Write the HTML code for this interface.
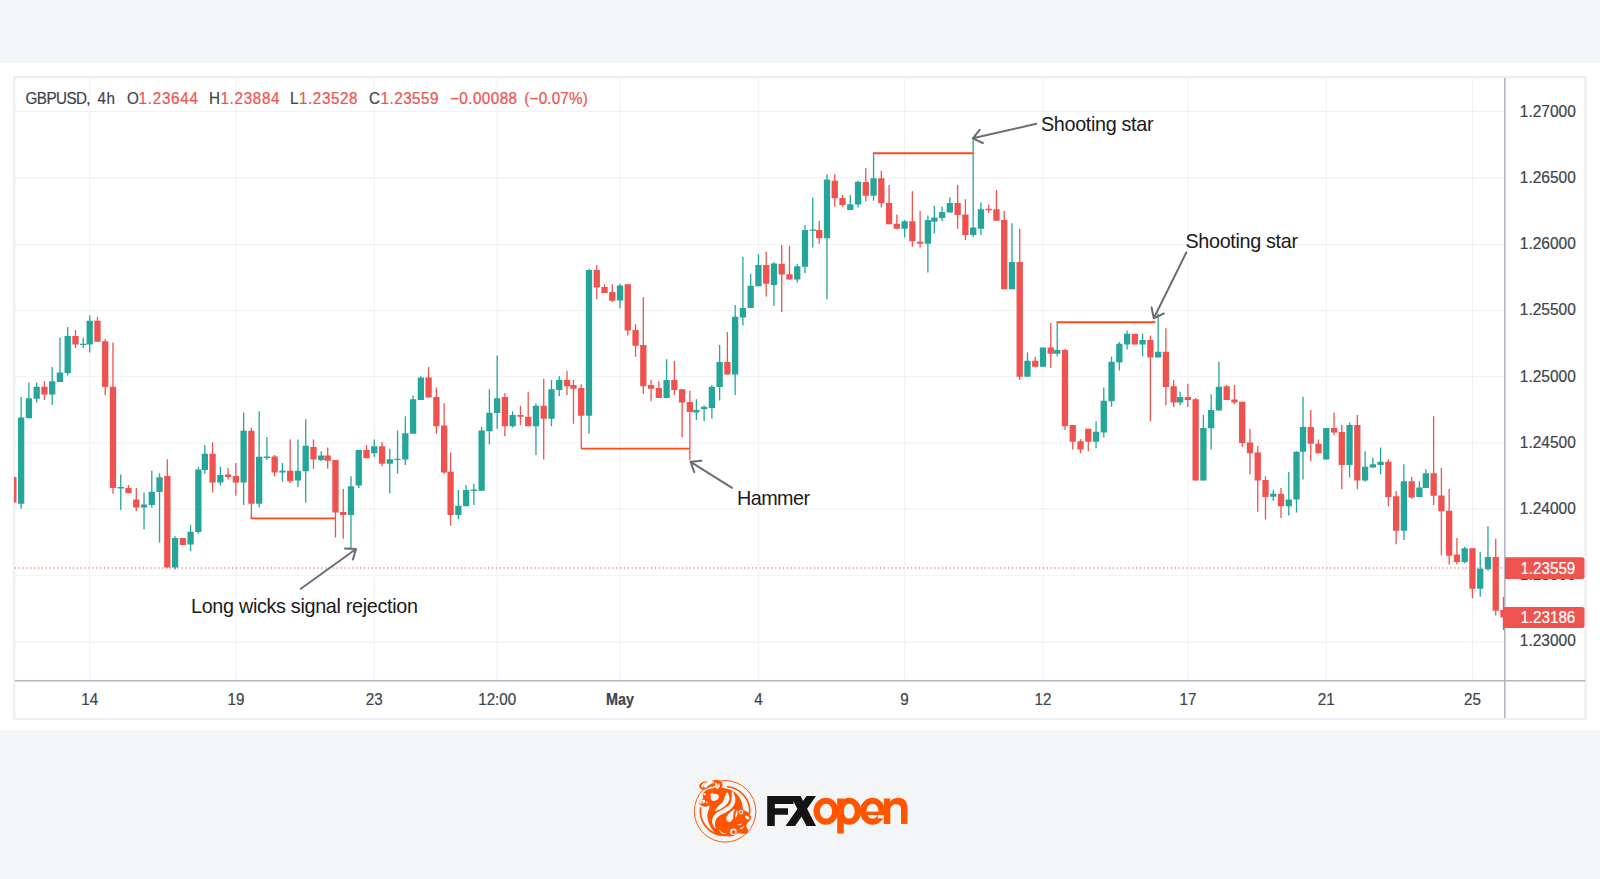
<!DOCTYPE html>
<html><head><meta charset="utf-8"><title>GBPUSD chart</title>
<style>
html,body{margin:0;padding:0;}
body{width:1600px;height:879px;background:#f4f5f7;overflow:hidden;position:relative;font-family:"Liberation Sans",sans-serif;}
#band{position:absolute;left:0;top:63px;width:1600px;height:667px;background:#ffffff;}
svg{position:absolute;left:0;top:0;}
text{font-family:"Liberation Sans",sans-serif;}
</style></head><body>
<div id="band"></div>
<svg width="1600" height="879" viewBox="0 0 1600 879">
<defs><clipPath id="plot"><rect x="14" y="78" width="1490.5" height="602"/></clipPath></defs>

<rect x="14.2" y="77.2" width="1571.4" height="641.8" fill="#ffffff" stroke="#edeff4" stroke-width="2.4"/>
<line x1="89.7" y1="78" x2="89.7" y2="680" stroke="#f2f3f5" stroke-width="1.2"/>
<line x1="235.9" y1="78" x2="235.9" y2="680" stroke="#f2f3f5" stroke-width="1.2"/>
<line x1="374.3" y1="78" x2="374.3" y2="680" stroke="#f2f3f5" stroke-width="1.2"/>
<line x1="497.2" y1="78" x2="497.2" y2="680" stroke="#f2f3f5" stroke-width="1.2"/>
<line x1="620.0" y1="78" x2="620.0" y2="680" stroke="#f2f3f5" stroke-width="1.2"/>
<line x1="758.4" y1="78" x2="758.4" y2="680" stroke="#f2f3f5" stroke-width="1.2"/>
<line x1="904.6" y1="78" x2="904.6" y2="680" stroke="#f2f3f5" stroke-width="1.2"/>
<line x1="1043.0" y1="78" x2="1043.0" y2="680" stroke="#f2f3f5" stroke-width="1.2"/>
<line x1="1187.9" y1="78" x2="1187.9" y2="680" stroke="#f2f3f5" stroke-width="1.2"/>
<line x1="1326.3" y1="78" x2="1326.3" y2="680" stroke="#f2f3f5" stroke-width="1.2"/>
<line x1="1472.4" y1="78" x2="1472.4" y2="680" stroke="#f2f3f5" stroke-width="1.2"/>
<line x1="15" y1="111.3" x2="1504" y2="111.3" stroke="#f2f3f5" stroke-width="1.2"/>
<line x1="15" y1="177.6" x2="1504" y2="177.6" stroke="#f2f3f5" stroke-width="1.2"/>
<line x1="15" y1="244.5" x2="1504" y2="244.5" stroke="#f2f3f5" stroke-width="1.2"/>
<line x1="15" y1="310.6" x2="1504" y2="310.6" stroke="#f2f3f5" stroke-width="1.2"/>
<line x1="15" y1="376.5" x2="1504" y2="376.5" stroke="#f2f3f5" stroke-width="1.2"/>
<line x1="15" y1="442.8" x2="1504" y2="442.8" stroke="#f2f3f5" stroke-width="1.2"/>
<line x1="15" y1="508.8" x2="1504" y2="508.8" stroke="#f2f3f5" stroke-width="1.2"/>
<line x1="15" y1="575.7" x2="1504" y2="575.7" stroke="#f2f3f5" stroke-width="1.2"/>
<line x1="15" y1="641.9" x2="1504" y2="641.9" stroke="#f2f3f5" stroke-width="1.2"/>
<g clip-path="url(#plot)">
<rect x="12.73" y="477.00" width="1.3" height="25.50" fill="#ef5350"/>
<rect x="10.23" y="477.00" width="6.3" height="25.50" fill="#ef5350"/>
<rect x="20.50" y="397.00" width="1.3" height="111.75" fill="#26a69a"/>
<rect x="18.00" y="417.50" width="6.3" height="86.25" fill="#26a69a"/>
<rect x="28.26" y="382.50" width="1.3" height="35.75" fill="#26a69a"/>
<rect x="25.76" y="398.25" width="6.3" height="20.00" fill="#26a69a"/>
<rect x="36.02" y="382.50" width="1.3" height="20.00" fill="#26a69a"/>
<rect x="33.52" y="386.75" width="6.3" height="12.00" fill="#26a69a"/>
<rect x="43.78" y="381.25" width="1.3" height="18.75" fill="#ef5350"/>
<rect x="41.28" y="386.75" width="6.3" height="7.75" fill="#ef5350"/>
<rect x="51.54" y="367.00" width="1.3" height="38.00" fill="#26a69a"/>
<rect x="49.04" y="381.25" width="6.3" height="13.25" fill="#26a69a"/>
<rect x="59.30" y="337.50" width="1.3" height="44.50" fill="#26a69a"/>
<rect x="56.80" y="372.50" width="6.3" height="9.50" fill="#26a69a"/>
<rect x="67.06" y="327.00" width="1.3" height="48.50" fill="#26a69a"/>
<rect x="64.56" y="336.00" width="6.3" height="37.00" fill="#26a69a"/>
<rect x="74.82" y="330.00" width="1.3" height="18.00" fill="#ef5350"/>
<rect x="72.32" y="336.00" width="6.3" height="8.50" fill="#ef5350"/>
<rect x="82.58" y="337.50" width="1.3" height="10.50" fill="#26a69a"/>
<rect x="80.08" y="343.75" width="6.3" height="1.25" fill="#26a69a"/>
<rect x="89.05" y="315.50" width="1.3" height="37.00" fill="#26a69a"/>
<rect x="86.55" y="320.75" width="6.3" height="23.75" fill="#26a69a"/>
<rect x="96.81" y="316.75" width="1.3" height="25.00" fill="#ef5350"/>
<rect x="94.31" y="320.75" width="6.3" height="21.00" fill="#ef5350"/>
<rect x="104.57" y="338.75" width="1.3" height="56.25" fill="#ef5350"/>
<rect x="102.07" y="341.25" width="6.3" height="45.75" fill="#ef5350"/>
<rect x="112.33" y="342.50" width="1.3" height="151.25" fill="#ef5350"/>
<rect x="109.83" y="386.75" width="6.3" height="101.25" fill="#ef5350"/>
<rect x="120.09" y="474.50" width="1.3" height="35.50" fill="#26a69a"/>
<rect x="117.59" y="487.00" width="6.3" height="1.50" fill="#26a69a"/>
<rect x="127.85" y="485.00" width="1.3" height="8.25" fill="#ef5350"/>
<rect x="125.35" y="488.00" width="6.3" height="5.25" fill="#ef5350"/>
<rect x="135.62" y="488.00" width="1.3" height="23.25" fill="#ef5350"/>
<rect x="133.12" y="499.50" width="6.3" height="8.00" fill="#ef5350"/>
<rect x="143.38" y="492.50" width="1.3" height="37.00" fill="#26a69a"/>
<rect x="140.88" y="504.50" width="6.3" height="3.00" fill="#26a69a"/>
<rect x="151.14" y="470.75" width="1.3" height="36.75" fill="#26a69a"/>
<rect x="148.64" y="491.75" width="6.3" height="13.25" fill="#26a69a"/>
<rect x="158.90" y="473.25" width="1.3" height="69.25" fill="#26a69a"/>
<rect x="156.40" y="477.25" width="6.3" height="14.75" fill="#26a69a"/>
<rect x="166.66" y="459.25" width="1.3" height="108.25" fill="#ef5350"/>
<rect x="164.16" y="476.00" width="6.3" height="91.50" fill="#ef5350"/>
<rect x="174.42" y="536.25" width="1.3" height="33.25" fill="#26a69a"/>
<rect x="171.92" y="538.00" width="6.3" height="29.50" fill="#26a69a"/>
<rect x="182.18" y="538.00" width="1.3" height="7.00" fill="#ef5350"/>
<rect x="179.68" y="538.00" width="6.3" height="7.00" fill="#ef5350"/>
<rect x="189.94" y="525.00" width="1.3" height="26.25" fill="#26a69a"/>
<rect x="187.44" y="531.75" width="6.3" height="12.75" fill="#26a69a"/>
<rect x="197.70" y="466.75" width="1.3" height="67.00" fill="#26a69a"/>
<rect x="195.20" y="469.50" width="6.3" height="62.50" fill="#26a69a"/>
<rect x="204.17" y="445.00" width="1.3" height="28.75" fill="#26a69a"/>
<rect x="201.67" y="453.75" width="6.3" height="16.25" fill="#26a69a"/>
<rect x="211.93" y="442.50" width="1.3" height="50.00" fill="#ef5350"/>
<rect x="209.43" y="453.75" width="6.3" height="28.75" fill="#ef5350"/>
<rect x="219.69" y="466.75" width="1.3" height="18.75" fill="#26a69a"/>
<rect x="217.19" y="475.00" width="6.3" height="7.50" fill="#26a69a"/>
<rect x="227.45" y="468.00" width="1.3" height="11.50" fill="#ef5350"/>
<rect x="224.95" y="474.50" width="6.3" height="2.50" fill="#ef5350"/>
<rect x="235.21" y="463.00" width="1.3" height="32.75" fill="#ef5350"/>
<rect x="232.71" y="476.00" width="6.3" height="6.50" fill="#ef5350"/>
<rect x="242.98" y="412.50" width="1.3" height="92.50" fill="#26a69a"/>
<rect x="240.48" y="430.75" width="6.3" height="51.75" fill="#26a69a"/>
<rect x="250.74" y="428.00" width="1.3" height="90.00" fill="#ef5350"/>
<rect x="248.24" y="430.75" width="6.3" height="73.00" fill="#ef5350"/>
<rect x="258.50" y="411.25" width="1.3" height="96.25" fill="#26a69a"/>
<rect x="256.00" y="456.75" width="6.3" height="47.00" fill="#26a69a"/>
<rect x="266.26" y="437.00" width="1.3" height="23.00" fill="#26a69a"/>
<rect x="263.76" y="456.50" width="6.3" height="1.50" fill="#26a69a"/>
<rect x="274.02" y="455.00" width="1.3" height="21.25" fill="#ef5350"/>
<rect x="271.52" y="456.50" width="6.3" height="16.00" fill="#ef5350"/>
<rect x="281.78" y="463.00" width="1.3" height="18.75" fill="#26a69a"/>
<rect x="279.28" y="470.75" width="6.3" height="1.75" fill="#26a69a"/>
<rect x="289.54" y="439.50" width="1.3" height="43.50" fill="#ef5350"/>
<rect x="287.04" y="470.75" width="6.3" height="10.50" fill="#ef5350"/>
<rect x="297.30" y="439.50" width="1.3" height="47.50" fill="#26a69a"/>
<rect x="294.80" y="470.75" width="6.3" height="9.75" fill="#26a69a"/>
<rect x="305.06" y="419.25" width="1.3" height="83.25" fill="#26a69a"/>
<rect x="302.56" y="445.75" width="6.3" height="25.50" fill="#26a69a"/>
<rect x="312.83" y="439.50" width="1.3" height="29.25" fill="#ef5350"/>
<rect x="310.33" y="447.00" width="6.3" height="12.50" fill="#ef5350"/>
<rect x="320.59" y="451.25" width="1.3" height="10.00" fill="#26a69a"/>
<rect x="318.09" y="455.50" width="6.3" height="4.50" fill="#26a69a"/>
<rect x="327.05" y="447.50" width="1.3" height="21.25" fill="#ef5350"/>
<rect x="324.55" y="455.50" width="6.3" height="5.25" fill="#ef5350"/>
<rect x="334.81" y="460.00" width="1.3" height="77.50" fill="#ef5350"/>
<rect x="332.31" y="460.00" width="6.3" height="52.50" fill="#ef5350"/>
<rect x="342.58" y="488.75" width="1.3" height="50.00" fill="#ef5350"/>
<rect x="340.08" y="512.00" width="6.3" height="3.00" fill="#ef5350"/>
<rect x="350.34" y="476.25" width="1.3" height="72.50" fill="#26a69a"/>
<rect x="347.84" y="486.25" width="6.3" height="28.75" fill="#26a69a"/>
<rect x="358.10" y="450.00" width="1.3" height="38.00" fill="#26a69a"/>
<rect x="355.60" y="450.00" width="6.3" height="35.50" fill="#26a69a"/>
<rect x="365.86" y="445.00" width="1.3" height="13.25" fill="#ef5350"/>
<rect x="363.36" y="450.00" width="6.3" height="8.25" fill="#ef5350"/>
<rect x="373.62" y="439.50" width="1.3" height="17.50" fill="#26a69a"/>
<rect x="371.12" y="446.25" width="6.3" height="7.00" fill="#26a69a"/>
<rect x="381.38" y="442.00" width="1.3" height="24.25" fill="#ef5350"/>
<rect x="378.88" y="446.25" width="6.3" height="17.50" fill="#ef5350"/>
<rect x="389.14" y="448.75" width="1.3" height="44.50" fill="#26a69a"/>
<rect x="386.64" y="459.25" width="6.3" height="4.50" fill="#26a69a"/>
<rect x="396.90" y="430.50" width="1.3" height="43.25" fill="#26a69a"/>
<rect x="394.40" y="458.75" width="6.3" height="1.25" fill="#26a69a"/>
<rect x="404.66" y="416.25" width="1.3" height="48.75" fill="#26a69a"/>
<rect x="402.16" y="433.25" width="6.3" height="26.25" fill="#26a69a"/>
<rect x="412.42" y="395.50" width="1.3" height="38.25" fill="#26a69a"/>
<rect x="409.92" y="399.25" width="6.3" height="34.50" fill="#26a69a"/>
<rect x="420.19" y="376.25" width="1.3" height="23.75" fill="#26a69a"/>
<rect x="417.69" y="377.50" width="6.3" height="22.50" fill="#26a69a"/>
<rect x="427.95" y="367.00" width="1.3" height="30.50" fill="#ef5350"/>
<rect x="425.45" y="377.50" width="6.3" height="20.00" fill="#ef5350"/>
<rect x="435.71" y="387.50" width="1.3" height="46.25" fill="#ef5350"/>
<rect x="433.21" y="397.00" width="6.3" height="29.25" fill="#ef5350"/>
<rect x="443.47" y="403.25" width="1.3" height="70.50" fill="#ef5350"/>
<rect x="440.97" y="425.50" width="6.3" height="47.00" fill="#ef5350"/>
<rect x="449.94" y="452.50" width="1.3" height="73.25" fill="#ef5350"/>
<rect x="447.44" y="471.75" width="6.3" height="43.25" fill="#ef5350"/>
<rect x="457.70" y="490.00" width="1.3" height="29.25" fill="#26a69a"/>
<rect x="455.20" y="505.75" width="6.3" height="9.25" fill="#26a69a"/>
<rect x="465.46" y="485.00" width="1.3" height="21.25" fill="#26a69a"/>
<rect x="462.96" y="490.00" width="6.3" height="16.25" fill="#26a69a"/>
<rect x="473.22" y="483.75" width="1.3" height="21.25" fill="#26a69a"/>
<rect x="470.72" y="489.50" width="6.3" height="1.50" fill="#26a69a"/>
<rect x="480.98" y="427.00" width="1.3" height="63.75" fill="#26a69a"/>
<rect x="478.48" y="430.50" width="6.3" height="60.25" fill="#26a69a"/>
<rect x="488.74" y="389.25" width="1.3" height="55.00" fill="#26a69a"/>
<rect x="486.24" y="412.75" width="6.3" height="18.50" fill="#26a69a"/>
<rect x="496.50" y="355.50" width="1.3" height="73.25" fill="#26a69a"/>
<rect x="494.00" y="398.25" width="6.3" height="14.75" fill="#26a69a"/>
<rect x="504.26" y="393.25" width="1.3" height="43.00" fill="#ef5350"/>
<rect x="501.76" y="397.00" width="6.3" height="29.25" fill="#ef5350"/>
<rect x="512.02" y="411.25" width="1.3" height="16.25" fill="#26a69a"/>
<rect x="509.52" y="415.00" width="6.3" height="11.25" fill="#26a69a"/>
<rect x="519.78" y="405.75" width="1.3" height="19.25" fill="#ef5350"/>
<rect x="517.28" y="415.00" width="6.3" height="1.75" fill="#ef5350"/>
<rect x="527.55" y="391.75" width="1.3" height="34.50" fill="#ef5350"/>
<rect x="525.05" y="416.75" width="6.3" height="9.50" fill="#ef5350"/>
<rect x="535.31" y="403.25" width="1.3" height="51.75" fill="#26a69a"/>
<rect x="532.81" y="405.75" width="6.3" height="20.50" fill="#26a69a"/>
<rect x="543.07" y="378.75" width="1.3" height="80.75" fill="#ef5350"/>
<rect x="540.57" y="405.75" width="6.3" height="13.00" fill="#ef5350"/>
<rect x="550.83" y="380.00" width="1.3" height="46.25" fill="#26a69a"/>
<rect x="548.33" y="389.25" width="6.3" height="29.50" fill="#26a69a"/>
<rect x="558.59" y="376.25" width="1.3" height="20.00" fill="#26a69a"/>
<rect x="556.09" y="380.00" width="6.3" height="10.00" fill="#26a69a"/>
<rect x="566.35" y="370.75" width="1.3" height="24.25" fill="#ef5350"/>
<rect x="563.85" y="380.00" width="6.3" height="6.25" fill="#ef5350"/>
<rect x="572.82" y="380.00" width="1.3" height="43.75" fill="#ef5350"/>
<rect x="570.32" y="385.00" width="6.3" height="3.75" fill="#ef5350"/>
<rect x="580.58" y="384.25" width="1.3" height="63.75" fill="#ef5350"/>
<rect x="578.08" y="388.00" width="6.3" height="27.75" fill="#ef5350"/>
<rect x="588.34" y="268.75" width="1.3" height="165.00" fill="#26a69a"/>
<rect x="585.84" y="270.00" width="6.3" height="145.75" fill="#26a69a"/>
<rect x="596.10" y="265.00" width="1.3" height="34.25" fill="#ef5350"/>
<rect x="593.60" y="270.00" width="6.3" height="17.50" fill="#ef5350"/>
<rect x="603.86" y="284.25" width="1.3" height="8.75" fill="#ef5350"/>
<rect x="601.36" y="287.00" width="6.3" height="6.00" fill="#ef5350"/>
<rect x="611.62" y="284.25" width="1.3" height="17.75" fill="#ef5350"/>
<rect x="609.12" y="292.00" width="6.3" height="8.75" fill="#ef5350"/>
<rect x="619.38" y="283.75" width="1.3" height="24.50" fill="#26a69a"/>
<rect x="616.88" y="285.50" width="6.3" height="15.00" fill="#26a69a"/>
<rect x="627.14" y="284.25" width="1.3" height="51.25" fill="#ef5350"/>
<rect x="624.64" y="284.25" width="6.3" height="46.25" fill="#ef5350"/>
<rect x="634.91" y="324.25" width="1.3" height="32.50" fill="#ef5350"/>
<rect x="632.41" y="330.00" width="6.3" height="15.75" fill="#ef5350"/>
<rect x="642.67" y="297.00" width="1.3" height="96.75" fill="#ef5350"/>
<rect x="640.17" y="345.00" width="6.3" height="41.25" fill="#ef5350"/>
<rect x="650.43" y="380.00" width="1.3" height="21.25" fill="#ef5350"/>
<rect x="647.93" y="385.00" width="6.3" height="3.75" fill="#ef5350"/>
<rect x="658.19" y="381.25" width="1.3" height="16.75" fill="#ef5350"/>
<rect x="655.69" y="388.00" width="6.3" height="10.00" fill="#ef5350"/>
<rect x="665.95" y="359.25" width="1.3" height="38.75" fill="#26a69a"/>
<rect x="663.45" y="380.00" width="6.3" height="18.00" fill="#26a69a"/>
<rect x="673.71" y="360.75" width="1.3" height="34.25" fill="#ef5350"/>
<rect x="671.21" y="380.00" width="6.3" height="10.00" fill="#ef5350"/>
<rect x="681.47" y="389.25" width="1.3" height="48.25" fill="#ef5350"/>
<rect x="678.97" y="389.25" width="6.3" height="13.25" fill="#ef5350"/>
<rect x="689.23" y="390.75" width="1.3" height="69.25" fill="#ef5350"/>
<rect x="686.73" y="402.00" width="6.3" height="10.00" fill="#ef5350"/>
<rect x="695.70" y="399.25" width="1.3" height="20.75" fill="#26a69a"/>
<rect x="693.20" y="410.00" width="6.3" height="2.50" fill="#26a69a"/>
<rect x="703.46" y="405.50" width="1.3" height="15.75" fill="#26a69a"/>
<rect x="700.96" y="406.75" width="6.3" height="2.50" fill="#26a69a"/>
<rect x="711.22" y="385.00" width="1.3" height="33.75" fill="#26a69a"/>
<rect x="708.72" y="386.75" width="6.3" height="21.25" fill="#26a69a"/>
<rect x="718.98" y="345.00" width="1.3" height="55.50" fill="#26a69a"/>
<rect x="716.48" y="362.00" width="6.3" height="25.00" fill="#26a69a"/>
<rect x="726.74" y="332.00" width="1.3" height="42.50" fill="#ef5350"/>
<rect x="724.24" y="362.00" width="6.3" height="12.50" fill="#ef5350"/>
<rect x="734.50" y="305.00" width="1.3" height="90.00" fill="#26a69a"/>
<rect x="732.00" y="316.75" width="6.3" height="57.75" fill="#26a69a"/>
<rect x="742.26" y="256.75" width="1.3" height="68.75" fill="#26a69a"/>
<rect x="739.76" y="308.00" width="6.3" height="9.50" fill="#26a69a"/>
<rect x="750.03" y="273.75" width="1.3" height="34.25" fill="#26a69a"/>
<rect x="747.53" y="285.75" width="6.3" height="22.25" fill="#26a69a"/>
<rect x="757.79" y="254.25" width="1.3" height="32.00" fill="#26a69a"/>
<rect x="755.29" y="265.00" width="6.3" height="21.25" fill="#26a69a"/>
<rect x="765.55" y="251.75" width="1.3" height="44.75" fill="#ef5350"/>
<rect x="763.05" y="265.00" width="6.3" height="18.75" fill="#ef5350"/>
<rect x="773.31" y="262.00" width="1.3" height="43.75" fill="#26a69a"/>
<rect x="770.81" y="263.50" width="6.3" height="21.50" fill="#26a69a"/>
<rect x="781.07" y="245.00" width="1.3" height="67.00" fill="#ef5350"/>
<rect x="778.57" y="263.75" width="6.3" height="10.75" fill="#ef5350"/>
<rect x="788.83" y="245.75" width="1.3" height="33.75" fill="#ef5350"/>
<rect x="786.33" y="274.25" width="6.3" height="5.25" fill="#ef5350"/>
<rect x="796.59" y="263.75" width="1.3" height="18.75" fill="#26a69a"/>
<rect x="794.09" y="266.25" width="6.3" height="13.25" fill="#26a69a"/>
<rect x="804.35" y="225.00" width="1.3" height="48.25" fill="#26a69a"/>
<rect x="801.85" y="230.00" width="6.3" height="36.75" fill="#26a69a"/>
<rect x="812.11" y="197.50" width="1.3" height="50.00" fill="#26a69a"/>
<rect x="809.61" y="229.50" width="6.3" height="1.25" fill="#26a69a"/>
<rect x="818.58" y="220.75" width="1.3" height="23.00" fill="#ef5350"/>
<rect x="816.08" y="230.00" width="6.3" height="8.25" fill="#ef5350"/>
<rect x="826.34" y="174.25" width="1.3" height="125.00" fill="#26a69a"/>
<rect x="823.84" y="179.50" width="6.3" height="58.75" fill="#26a69a"/>
<rect x="834.10" y="174.25" width="1.3" height="32.50" fill="#ef5350"/>
<rect x="831.60" y="180.75" width="6.3" height="17.50" fill="#ef5350"/>
<rect x="841.86" y="195.00" width="1.3" height="11.75" fill="#ef5350"/>
<rect x="839.36" y="198.00" width="6.3" height="7.00" fill="#ef5350"/>
<rect x="849.62" y="195.00" width="1.3" height="15.00" fill="#26a69a"/>
<rect x="847.12" y="204.25" width="6.3" height="5.75" fill="#26a69a"/>
<rect x="857.39" y="180.75" width="1.3" height="26.75" fill="#26a69a"/>
<rect x="854.89" y="181.75" width="6.3" height="22.75" fill="#26a69a"/>
<rect x="865.15" y="168.00" width="1.3" height="33.25" fill="#ef5350"/>
<rect x="862.65" y="182.00" width="6.3" height="13.75" fill="#ef5350"/>
<rect x="872.91" y="152.50" width="1.3" height="48.25" fill="#26a69a"/>
<rect x="870.41" y="178.25" width="6.3" height="17.50" fill="#26a69a"/>
<rect x="880.67" y="170.75" width="1.3" height="36.75" fill="#ef5350"/>
<rect x="878.17" y="178.25" width="6.3" height="25.00" fill="#ef5350"/>
<rect x="888.43" y="185.00" width="1.3" height="39.25" fill="#ef5350"/>
<rect x="885.93" y="203.00" width="6.3" height="21.25" fill="#ef5350"/>
<rect x="896.19" y="214.50" width="1.3" height="15.00" fill="#ef5350"/>
<rect x="893.69" y="223.75" width="6.3" height="5.00" fill="#ef5350"/>
<rect x="903.95" y="220.00" width="1.3" height="17.50" fill="#26a69a"/>
<rect x="901.45" y="221.25" width="6.3" height="7.50" fill="#26a69a"/>
<rect x="911.71" y="191.25" width="1.3" height="55.50" fill="#ef5350"/>
<rect x="909.21" y="221.25" width="6.3" height="20.00" fill="#ef5350"/>
<rect x="919.47" y="210.75" width="1.3" height="36.75" fill="#ef5350"/>
<rect x="916.97" y="241.75" width="6.3" height="2.00" fill="#ef5350"/>
<rect x="927.23" y="215.50" width="1.3" height="57.00" fill="#26a69a"/>
<rect x="924.73" y="220.00" width="6.3" height="23.75" fill="#26a69a"/>
<rect x="933.70" y="205.75" width="1.3" height="27.50" fill="#26a69a"/>
<rect x="931.20" y="217.50" width="6.3" height="4.25" fill="#26a69a"/>
<rect x="941.46" y="206.75" width="1.3" height="14.50" fill="#26a69a"/>
<rect x="938.96" y="212.00" width="6.3" height="6.00" fill="#26a69a"/>
<rect x="949.22" y="197.50" width="1.3" height="15.00" fill="#26a69a"/>
<rect x="946.72" y="203.00" width="6.3" height="9.50" fill="#26a69a"/>
<rect x="956.98" y="185.00" width="1.3" height="43.75" fill="#ef5350"/>
<rect x="954.48" y="203.00" width="6.3" height="12.00" fill="#ef5350"/>
<rect x="964.75" y="199.25" width="1.3" height="40.75" fill="#ef5350"/>
<rect x="962.25" y="214.50" width="6.3" height="20.50" fill="#ef5350"/>
<rect x="972.51" y="138.75" width="1.3" height="98.25" fill="#26a69a"/>
<rect x="970.01" y="227.50" width="6.3" height="7.50" fill="#26a69a"/>
<rect x="980.27" y="202.50" width="1.3" height="32.50" fill="#26a69a"/>
<rect x="977.77" y="209.25" width="6.3" height="19.50" fill="#26a69a"/>
<rect x="988.03" y="204.50" width="1.3" height="8.50" fill="#ef5350"/>
<rect x="985.53" y="208.75" width="6.3" height="1.50" fill="#ef5350"/>
<rect x="995.79" y="190.00" width="1.3" height="30.75" fill="#ef5350"/>
<rect x="993.29" y="209.25" width="6.3" height="11.50" fill="#ef5350"/>
<rect x="1003.55" y="210.75" width="1.3" height="78.50" fill="#ef5350"/>
<rect x="1001.05" y="220.00" width="6.3" height="69.25" fill="#ef5350"/>
<rect x="1011.31" y="223.25" width="1.3" height="66.00" fill="#26a69a"/>
<rect x="1008.81" y="262.00" width="6.3" height="27.25" fill="#26a69a"/>
<rect x="1019.07" y="228.75" width="1.3" height="151.25" fill="#ef5350"/>
<rect x="1016.57" y="262.00" width="6.3" height="114.75" fill="#ef5350"/>
<rect x="1026.83" y="352.50" width="1.3" height="24.25" fill="#26a69a"/>
<rect x="1024.33" y="360.75" width="6.3" height="16.00" fill="#26a69a"/>
<rect x="1034.59" y="356.75" width="1.3" height="10.00" fill="#ef5350"/>
<rect x="1032.09" y="360.75" width="6.3" height="6.00" fill="#ef5350"/>
<rect x="1042.36" y="347.50" width="1.3" height="19.25" fill="#26a69a"/>
<rect x="1039.86" y="347.50" width="6.3" height="19.25" fill="#26a69a"/>
<rect x="1050.12" y="323.00" width="1.3" height="45.00" fill="#ef5350"/>
<rect x="1047.62" y="347.50" width="6.3" height="6.25" fill="#ef5350"/>
<rect x="1056.58" y="321.75" width="1.3" height="34.50" fill="#26a69a"/>
<rect x="1054.08" y="350.00" width="6.3" height="3.75" fill="#26a69a"/>
<rect x="1064.34" y="348.75" width="1.3" height="81.25" fill="#ef5350"/>
<rect x="1061.84" y="350.00" width="6.3" height="76.25" fill="#ef5350"/>
<rect x="1072.11" y="425.00" width="1.3" height="24.50" fill="#ef5350"/>
<rect x="1069.61" y="425.00" width="6.3" height="16.75" fill="#ef5350"/>
<rect x="1079.87" y="439.25" width="1.3" height="14.00" fill="#ef5350"/>
<rect x="1077.37" y="441.25" width="6.3" height="8.25" fill="#ef5350"/>
<rect x="1087.63" y="428.75" width="1.3" height="22.50" fill="#ef5350"/>
<rect x="1085.13" y="428.75" width="6.3" height="13.00" fill="#ef5350"/>
<rect x="1095.39" y="421.25" width="1.3" height="27.00" fill="#26a69a"/>
<rect x="1092.89" y="431.75" width="6.3" height="10.00" fill="#26a69a"/>
<rect x="1103.15" y="387.50" width="1.3" height="50.00" fill="#26a69a"/>
<rect x="1100.65" y="400.75" width="6.3" height="31.75" fill="#26a69a"/>
<rect x="1110.91" y="356.75" width="1.3" height="50.00" fill="#26a69a"/>
<rect x="1108.41" y="361.75" width="6.3" height="39.50" fill="#26a69a"/>
<rect x="1118.67" y="342.00" width="1.3" height="28.50" fill="#26a69a"/>
<rect x="1116.17" y="343.75" width="6.3" height="18.75" fill="#26a69a"/>
<rect x="1126.43" y="330.50" width="1.3" height="19.00" fill="#26a69a"/>
<rect x="1123.93" y="333.75" width="6.3" height="10.75" fill="#26a69a"/>
<rect x="1134.19" y="333.75" width="1.3" height="10.75" fill="#ef5350"/>
<rect x="1131.69" y="333.75" width="6.3" height="10.75" fill="#ef5350"/>
<rect x="1141.95" y="333.75" width="1.3" height="22.50" fill="#26a69a"/>
<rect x="1139.45" y="340.00" width="6.3" height="4.50" fill="#26a69a"/>
<rect x="1149.72" y="335.75" width="1.3" height="85.50" fill="#ef5350"/>
<rect x="1147.22" y="340.00" width="6.3" height="17.50" fill="#ef5350"/>
<rect x="1157.48" y="313.75" width="1.3" height="43.75" fill="#26a69a"/>
<rect x="1154.98" y="351.75" width="6.3" height="5.75" fill="#26a69a"/>
<rect x="1165.24" y="328.25" width="1.3" height="77.25" fill="#ef5350"/>
<rect x="1162.74" y="351.75" width="6.3" height="35.25" fill="#ef5350"/>
<rect x="1173.00" y="380.00" width="1.3" height="27.00" fill="#ef5350"/>
<rect x="1170.50" y="386.25" width="6.3" height="16.25" fill="#ef5350"/>
<rect x="1179.47" y="391.75" width="1.3" height="13.75" fill="#26a69a"/>
<rect x="1176.97" y="397.00" width="6.3" height="5.50" fill="#26a69a"/>
<rect x="1187.23" y="383.75" width="1.3" height="23.25" fill="#ef5350"/>
<rect x="1184.73" y="397.00" width="6.3" height="3.00" fill="#ef5350"/>
<rect x="1194.99" y="398.00" width="1.3" height="82.50" fill="#ef5350"/>
<rect x="1192.49" y="399.25" width="6.3" height="81.25" fill="#ef5350"/>
<rect x="1202.75" y="415.00" width="1.3" height="65.50" fill="#26a69a"/>
<rect x="1200.25" y="428.00" width="6.3" height="52.50" fill="#26a69a"/>
<rect x="1210.51" y="394.25" width="1.3" height="55.25" fill="#26a69a"/>
<rect x="1208.01" y="410.00" width="6.3" height="18.25" fill="#26a69a"/>
<rect x="1218.27" y="361.75" width="1.3" height="48.75" fill="#26a69a"/>
<rect x="1215.77" y="386.75" width="6.3" height="23.75" fill="#26a69a"/>
<rect x="1226.03" y="385.00" width="1.3" height="15.00" fill="#ef5350"/>
<rect x="1223.53" y="386.25" width="6.3" height="13.75" fill="#ef5350"/>
<rect x="1233.79" y="385.00" width="1.3" height="19.25" fill="#ef5350"/>
<rect x="1231.29" y="399.50" width="6.3" height="3.00" fill="#ef5350"/>
<rect x="1241.55" y="401.75" width="1.3" height="45.00" fill="#ef5350"/>
<rect x="1239.05" y="401.75" width="6.3" height="41.25" fill="#ef5350"/>
<rect x="1249.31" y="428.75" width="1.3" height="45.50" fill="#ef5350"/>
<rect x="1246.81" y="442.50" width="6.3" height="10.75" fill="#ef5350"/>
<rect x="1257.08" y="446.25" width="1.3" height="65.50" fill="#ef5350"/>
<rect x="1254.58" y="452.50" width="6.3" height="28.00" fill="#ef5350"/>
<rect x="1264.84" y="476.25" width="1.3" height="43.25" fill="#ef5350"/>
<rect x="1262.34" y="480.00" width="6.3" height="17.00" fill="#ef5350"/>
<rect x="1272.60" y="490.00" width="1.3" height="10.75" fill="#26a69a"/>
<rect x="1270.10" y="493.75" width="6.3" height="3.00" fill="#26a69a"/>
<rect x="1280.36" y="488.00" width="1.3" height="30.00" fill="#ef5350"/>
<rect x="1277.86" y="493.75" width="6.3" height="12.50" fill="#ef5350"/>
<rect x="1288.12" y="472.00" width="1.3" height="43.50" fill="#26a69a"/>
<rect x="1285.62" y="499.50" width="6.3" height="6.75" fill="#26a69a"/>
<rect x="1295.88" y="451.25" width="1.3" height="61.25" fill="#26a69a"/>
<rect x="1293.38" y="451.75" width="6.3" height="47.75" fill="#26a69a"/>
<rect x="1302.35" y="396.75" width="1.3" height="82.75" fill="#26a69a"/>
<rect x="1299.85" y="427.00" width="6.3" height="24.75" fill="#26a69a"/>
<rect x="1310.11" y="410.00" width="1.3" height="51.25" fill="#ef5350"/>
<rect x="1307.61" y="427.00" width="6.3" height="16.75" fill="#ef5350"/>
<rect x="1317.87" y="439.50" width="1.3" height="13.75" fill="#ef5350"/>
<rect x="1315.37" y="443.75" width="6.3" height="9.50" fill="#ef5350"/>
<rect x="1325.63" y="428.00" width="1.3" height="31.50" fill="#26a69a"/>
<rect x="1323.13" y="428.00" width="6.3" height="31.50" fill="#26a69a"/>
<rect x="1333.39" y="412.50" width="1.3" height="22.50" fill="#ef5350"/>
<rect x="1330.89" y="428.00" width="6.3" height="4.50" fill="#ef5350"/>
<rect x="1341.15" y="425.00" width="1.3" height="64.25" fill="#ef5350"/>
<rect x="1338.65" y="432.00" width="6.3" height="33.00" fill="#ef5350"/>
<rect x="1348.91" y="422.50" width="1.3" height="55.00" fill="#26a69a"/>
<rect x="1346.41" y="425.00" width="6.3" height="40.00" fill="#26a69a"/>
<rect x="1356.67" y="415.00" width="1.3" height="74.25" fill="#ef5350"/>
<rect x="1354.17" y="425.00" width="6.3" height="55.50" fill="#ef5350"/>
<rect x="1364.44" y="451.25" width="1.3" height="30.50" fill="#26a69a"/>
<rect x="1361.94" y="466.75" width="6.3" height="13.75" fill="#26a69a"/>
<rect x="1372.20" y="457.50" width="1.3" height="10.00" fill="#26a69a"/>
<rect x="1369.70" y="464.25" width="6.3" height="3.25" fill="#26a69a"/>
<rect x="1379.96" y="447.50" width="1.3" height="26.75" fill="#26a69a"/>
<rect x="1377.46" y="461.75" width="6.3" height="3.25" fill="#26a69a"/>
<rect x="1387.72" y="459.25" width="1.3" height="47.00" fill="#ef5350"/>
<rect x="1385.22" y="461.75" width="6.3" height="35.25" fill="#ef5350"/>
<rect x="1395.48" y="491.25" width="1.3" height="53.00" fill="#ef5350"/>
<rect x="1392.98" y="496.25" width="6.3" height="34.50" fill="#ef5350"/>
<rect x="1403.24" y="464.25" width="1.3" height="75.75" fill="#26a69a"/>
<rect x="1400.74" y="481.25" width="6.3" height="49.50" fill="#26a69a"/>
<rect x="1411.00" y="477.00" width="1.3" height="21.75" fill="#ef5350"/>
<rect x="1408.50" y="481.25" width="6.3" height="16.25" fill="#ef5350"/>
<rect x="1418.76" y="481.25" width="1.3" height="15.75" fill="#26a69a"/>
<rect x="1416.26" y="487.50" width="6.3" height="9.50" fill="#26a69a"/>
<rect x="1425.23" y="469.25" width="1.3" height="18.75" fill="#26a69a"/>
<rect x="1422.73" y="473.25" width="6.3" height="14.75" fill="#26a69a"/>
<rect x="1432.99" y="416.25" width="1.3" height="88.75" fill="#ef5350"/>
<rect x="1430.49" y="473.25" width="6.3" height="22.50" fill="#ef5350"/>
<rect x="1440.75" y="468.00" width="1.3" height="87.50" fill="#ef5350"/>
<rect x="1438.25" y="495.50" width="6.3" height="15.75" fill="#ef5350"/>
<rect x="1448.51" y="488.75" width="1.3" height="75.75" fill="#ef5350"/>
<rect x="1446.01" y="510.75" width="6.3" height="45.00" fill="#ef5350"/>
<rect x="1456.27" y="538.00" width="1.3" height="26.50" fill="#ef5350"/>
<rect x="1453.77" y="554.50" width="6.3" height="7.50" fill="#ef5350"/>
<rect x="1464.03" y="546.75" width="1.3" height="16.50" fill="#26a69a"/>
<rect x="1461.53" y="548.25" width="6.3" height="13.75" fill="#26a69a"/>
<rect x="1471.80" y="548.25" width="1.3" height="50.00" fill="#ef5350"/>
<rect x="1469.30" y="548.25" width="6.3" height="40.50" fill="#ef5350"/>
<rect x="1479.56" y="552.00" width="1.3" height="44.75" fill="#26a69a"/>
<rect x="1477.06" y="568.75" width="6.3" height="20.00" fill="#26a69a"/>
<rect x="1487.32" y="526.25" width="1.3" height="44.50" fill="#26a69a"/>
<rect x="1484.82" y="557.00" width="6.3" height="12.25" fill="#26a69a"/>
<rect x="1495.08" y="538.75" width="1.3" height="76.75" fill="#ef5350"/>
<rect x="1492.58" y="557.00" width="6.3" height="53.75" fill="#ef5350"/>
<rect x="1502.84" y="597.00" width="1.3" height="33.00" fill="#ef5350"/>
<rect x="1500.34" y="610.00" width="6.3" height="7.50" fill="#ef5350"/>
<line x1="15" y1="568" x2="1504" y2="568" stroke="#ef5350" stroke-width="1.1" stroke-dasharray="1.35 2.53" stroke-dashoffset="0.4"/>
</g>
<line x1="250.5" y1="518.4" x2="335.5" y2="518.4" stroke="#ff4a1c" stroke-width="1.9"/>
<line x1="581" y1="448.6" x2="689.5" y2="448.6" stroke="#ff4a1c" stroke-width="1.9"/>
<line x1="873.3" y1="153.2" x2="973" y2="153.2" stroke="#ff4a1c" stroke-width="1.9"/>
<line x1="1056.8" y1="322.2" x2="1155.5" y2="322.2" stroke="#ff4a1c" stroke-width="1.9"/>
<path d="M300.8 588.8L356 549M352.9 559.6L356 549L345.0 548.6" fill="none" stroke="#6a6d78" stroke-width="2" stroke-linecap="round" stroke-linejoin="round"/>
<path d="M732 487.8L690.6 461.8M701.5 460.7L690.6 461.8L694.3 472.1" fill="none" stroke="#6a6d78" stroke-width="2" stroke-linecap="round" stroke-linejoin="round"/>
<path d="M1036.3 123.8L972.8 138.3M979.7 129.8L972.8 138.3L982.8 143.0" fill="none" stroke="#6a6d78" stroke-width="2" stroke-linecap="round" stroke-linejoin="round"/>
<path d="M1186.3 252.5L1153.8 318.3M1151.6 307.5L1153.8 318.3L1163.7 313.5" fill="none" stroke="#6a6d78" stroke-width="2" stroke-linecap="round" stroke-linejoin="round"/>
<text x="191" y="612.8" font-size="19.8" fill="#1a1a1a" text-anchor="start" textLength="227">Long wicks signal rejection</text>
<text x="737" y="505.2" font-size="19.8" fill="#1a1a1a" text-anchor="start" textLength="73">Hammer</text>
<text x="1041" y="131.2" font-size="19.8" fill="#1a1a1a" text-anchor="start" textLength="112.5">Shooting star</text>
<text x="1185.5" y="247.5" font-size="19.8" fill="#1a1a1a" text-anchor="start" textLength="112.5">Shooting star</text>
<line x1="1504.8" y1="78" x2="1504.8" y2="718" stroke="#b3b6c2" stroke-width="1.6"/>
<line x1="15" y1="680.8" x2="1585" y2="680.8" stroke="#b3b6c2" stroke-width="1.6"/>
<text transform="translate(1519.8,116.9) scale(1,1.06)" font-size="15.5" fill="#41444f" stroke="#41444f" stroke-width="0.22" text-anchor="start" >1.27000</text>
<text transform="translate(1519.8,183.1) scale(1,1.06)" font-size="15.5" fill="#41444f" stroke="#41444f" stroke-width="0.22" text-anchor="start" >1.26500</text>
<text transform="translate(1519.8,249.2) scale(1,1.06)" font-size="15.5" fill="#41444f" stroke="#41444f" stroke-width="0.22" text-anchor="start" >1.26000</text>
<text transform="translate(1519.8,315.4) scale(1,1.06)" font-size="15.5" fill="#41444f" stroke="#41444f" stroke-width="0.22" text-anchor="start" >1.25500</text>
<text transform="translate(1519.8,381.5) scale(1,1.06)" font-size="15.5" fill="#41444f" stroke="#41444f" stroke-width="0.22" text-anchor="start" >1.25000</text>
<text transform="translate(1519.8,447.6) scale(1,1.06)" font-size="15.5" fill="#41444f" stroke="#41444f" stroke-width="0.22" text-anchor="start" >1.24500</text>
<text transform="translate(1519.8,513.8) scale(1,1.06)" font-size="15.5" fill="#41444f" stroke="#41444f" stroke-width="0.22" text-anchor="start" >1.24000</text>
<text transform="translate(1519.8,580.0) scale(1,1.06)" font-size="15.5" fill="#41444f" stroke="#41444f" stroke-width="0.22" text-anchor="start" >1.23500</text>
<text transform="translate(1519.8,646.1) scale(1,1.06)" font-size="15.5" fill="#41444f" stroke="#41444f" stroke-width="0.22" text-anchor="start" >1.23000</text>
<path d="M1505 557.3H1582a2.5 2.5 0 0 1 2.5 2.5V576.5a2.5 2.5 0 0 1 -2.5 2.5H1505Z" fill="#ef5350"/>
<text transform="translate(1520.4,573.8) scale(1,1.06)" font-size="15.2" fill="#ffffff" stroke="#ffffff" stroke-width="0.22" text-anchor="start" >1.23559</text>
<path d="M1503 607H1582a2.5 2.5 0 0 1 2.5 2.5V625.5a2.5 2.5 0 0 1 -2.5 2.5H1503Z" fill="#ef5350"/>
<text transform="translate(1520.4,623) scale(1,1.06)" font-size="15.2" fill="#ffffff" stroke="#ffffff" stroke-width="0.22" text-anchor="start" >1.23186</text>
<text transform="translate(89.7,704.6) scale(1,1.06)" font-size="15.2" fill="#41444f" stroke="#41444f" stroke-width="0.22" text-anchor="middle" >14</text>
<text transform="translate(235.9,704.6) scale(1,1.06)" font-size="15.2" fill="#41444f" stroke="#41444f" stroke-width="0.22" text-anchor="middle" >19</text>
<text transform="translate(374.3,704.6) scale(1,1.06)" font-size="15.2" fill="#41444f" stroke="#41444f" stroke-width="0.22" text-anchor="middle" >23</text>
<text transform="translate(497.2,704.6) scale(1,1.06)" font-size="15.2" fill="#41444f" stroke="#41444f" stroke-width="0.22" text-anchor="middle" >12:00</text>
<text transform="translate(606.0,704.6) scale(1,1.06)" font-size="15.2" fill="#41444f" stroke="#41444f" stroke-width="0.22" text-anchor="start" font-weight="bold" textLength="28" lengthAdjust="spacingAndGlyphs">May</text>
<text transform="translate(758.4,704.6) scale(1,1.06)" font-size="15.2" fill="#41444f" stroke="#41444f" stroke-width="0.22" text-anchor="middle" >4</text>
<text transform="translate(904.6,704.6) scale(1,1.06)" font-size="15.2" fill="#41444f" stroke="#41444f" stroke-width="0.22" text-anchor="middle" >9</text>
<text transform="translate(1043.0,704.6) scale(1,1.06)" font-size="15.2" fill="#41444f" stroke="#41444f" stroke-width="0.22" text-anchor="middle" >12</text>
<text transform="translate(1187.9,704.6) scale(1,1.06)" font-size="15.2" fill="#41444f" stroke="#41444f" stroke-width="0.22" text-anchor="middle" >17</text>
<text transform="translate(1326.3,704.6) scale(1,1.06)" font-size="15.2" fill="#41444f" stroke="#41444f" stroke-width="0.22" text-anchor="middle" >21</text>
<text transform="translate(1472.4,704.6) scale(1,1.06)" font-size="15.2" fill="#41444f" stroke="#41444f" stroke-width="0.22" text-anchor="middle" >25</text>
<text transform="translate(25.6,104.3) scale(1,1.06)" font-size="15.2" fill="#41444f" stroke="#41444f" stroke-width="0.22" text-anchor="start" textLength="65">GBPUSD,</text>
<text transform="translate(97.5,104.3) scale(1,1.06)" font-size="15.2" fill="#41444f" stroke="#41444f" stroke-width="0.22" text-anchor="start" textLength="17.5">4h</text>
<text transform="translate(127,104.3) scale(1,1.06)" font-size="15.2" fill="#41444f" stroke="#41444f" stroke-width="0.22" text-anchor="start" >O</text>
<text transform="translate(209,104.3) scale(1,1.06)" font-size="15.2" fill="#41444f" stroke="#41444f" stroke-width="0.22" text-anchor="start" >H</text>
<text transform="translate(290,104.3) scale(1,1.06)" font-size="15.2" fill="#41444f" stroke="#41444f" stroke-width="0.22" text-anchor="start" >L</text>
<text transform="translate(369,104.3) scale(1,1.06)" font-size="15.2" fill="#41444f" stroke="#41444f" stroke-width="0.22" text-anchor="start" >C</text>
<text transform="translate(138.5,104.3) scale(1,1.06)" font-size="15.2" fill="#ef5350" stroke="#ef5350" stroke-width="0.22" text-anchor="start" textLength="59.5">1.23644</text>
<text transform="translate(220.5,104.3) scale(1,1.06)" font-size="15.2" fill="#ef5350" stroke="#ef5350" stroke-width="0.22" text-anchor="start" textLength="59">1.23884</text>
<text transform="translate(299,104.3) scale(1,1.06)" font-size="15.2" fill="#ef5350" stroke="#ef5350" stroke-width="0.22" text-anchor="start" textLength="58.5">1.23528</text>
<text transform="translate(380.5,104.3) scale(1,1.06)" font-size="15.2" fill="#ef5350" stroke="#ef5350" stroke-width="0.22" text-anchor="start" textLength="58">1.23559</text>
<text transform="translate(450,104.3) scale(1,1.06)" font-size="15.2" fill="#ef5350" stroke="#ef5350" stroke-width="0.22" text-anchor="start" textLength="67">−0.00088</text>
<text transform="translate(524.3,104.3) scale(1,1.06)" font-size="15.2" fill="#ef5350" stroke="#ef5350" stroke-width="0.22" text-anchor="start" textLength="63.5">(−0.07%)</text>
</svg>
<svg width="1600" height="879" viewBox="0 0 1600 879" style="position:absolute;left:0;top:0">
<svg x="760" y="785" width="160" height="60" viewBox="0 0 1600 600">
<g fill="#141414">
<path d="M72 110H335V190H148V232H280V298H148V410H72Z"/>
<path d="M305 110H405L560 410H465Z"/>
<path d="M465 110H560L350 410H255Z"/>
</g>
<g fill="#ff5500" fill-rule="evenodd">
<path d="M535 262a125 135 0 1 0 250 0a125 135 0 1 0 -250 0ZM598 262a62 74 0 1 0 124 0a62 74 0 1 0 -124 0Z"/>
<path d="M772 135H838V485H772Z"/>
<path d="M772 262a120 135 0 1 0 240 0a120 135 0 1 0 -240 0ZM836 262a56 74 0 1 0 112 0a56 74 0 1 0 -112 0Z"/>
<path d="M1000 262a125 135 0 1 0 250 0a125 135 0 1 0 -250 0ZM1064 262a61 74 0 1 0 122 0a61 74 0 1 0 -122 0Z"/>
<path d="M1060 266H1248V300H1060Z"/>
</g>
<path d="M1178 300H1256V333H1178Z" fill="#f4f5f7"/>
<path d="M1238 135H1303V165C1320 140 1350 128 1385 128C1440 128 1475 165 1475 230V390H1410V240C1410 208 1392 193 1362 193C1328 193 1303 212 1303 250V390H1238Z" fill="#ff5500"/>
</svg>
<svg x="688" y="772" width="80" height="78" viewBox="0 0 902 879">
<circle cx="418" cy="443" r="347" fill="none" stroke="#ff5500" stroke-width="11"/>
<path d="M143 400A276 276 0 0 0 370 714" fill="none" stroke="#ff5500" stroke-width="20"/>
<path d="M441 166A276 276 0 0 1 695 468" fill="none" stroke="#ff5500" stroke-width="18"/>
<path fill="#ff5500" d="M250 190C274 184 308 176 340 176C372 176 410 182 440 190C470 198 498 207 520 222C542 237 560 259 575 280C590 301 600 326 608 350C616 374 613 408 625 425C637 442 666 440 680 455C694 470 712 497 712 515C712 533 690 551 680 565C670 579 656 586 655 600C654 614 672 635 675 650C678 665 681 682 672 690C663 698 639 695 620 695C601 695 578 688 560 692C542 696 532 716 510 722C488 728 457 727 430 725C403 723 374 722 350 712C326 702 303 685 285 665C267 645 251 619 240 590C229 561 218 524 218 490C218 456 247 401 242 385C237 369 208 395 190 392C172 389 145 375 135 365C125 355 122 341 128 330C134 319 161 312 168 300C175 288 164 270 168 255C172 240 181 221 195 210C209 199 226 196 250 190Z"/>
<path fill="#ff5500" d="M212 200C170 210 128 192 125 160C128 122 175 102 225 108C192 124 172 145 176 163C184 176 200 178 224 174Z"/>
<path fill="#ff5500" d="M265 100C320 78 382 96 390 135C396 178 352 208 296 212C278 205 278 186 290 178C322 172 338 155 334 138C328 120 298 110 265 100Z"/>
<path fill="#ff5500" d="M160 192C200 170 250 140 300 124L312 152C270 166 230 186 200 208Z"/>
<path fill="#ff5500" d="M330 200C360 215 400 195 415 170C420 200 395 225 355 225Z"/>
<g fill="#f4f5f7">
<path d="M441 228C450 232 470 276 468 300C466 324 448 351 432 370C416 389 393 402 372 414C351 426 309 445 304 440C299 435 327 403 342 386C357 369 381 354 393 336C405 318 408 294 416 276C424 258 432 224 441 228Z"/>
<path d="M497 215C504 208 528 260 532 285C536 310 535 338 524 362C513 386 490 410 465 430C440 450 397 465 372 482C347 499 328 513 317 532C306 551 304 579 304 598C304 617 320 646 316 645C312 644 287 611 280 592C273 573 269 550 274 530C279 510 291 487 308 470C325 453 352 442 376 428C400 414 433 401 452 384C471 367 482 353 490 325C498 297 490 222 497 215Z"/>
<path d="M530 416C537 418 516 451 512 470C508 489 514 514 506 530C498 546 478 567 465 566C452 565 429 543 430 525C431 507 453 478 470 460C487 442 523 414 530 416Z"/>
<path d="M552 430C566 458 558 495 532 515C530 488 538 460 552 430Z"/>
<ellipse cx="302" cy="286" rx="47" ry="37" transform="rotate(-25 302 286)"/>
<ellipse cx="188" cy="250" rx="15" ry="13"/>
<ellipse cx="271" cy="254" rx="22" ry="12" transform="rotate(-20 271 254)"/>
<ellipse cx="160" cy="335" rx="36" ry="19" transform="rotate(-15 160 335)"/>
<ellipse cx="212" cy="344" rx="12" ry="7" transform="rotate(-30 212 344)"/>
<path d="M176 162C200 135 250 115 300 108C270 125 225 150 200 182Z"/>
<path d="M308 178C335 166 352 145 344 122C368 140 362 172 330 192Z"/>
<path d="M150 168C146 140 175 120 212 116C186 130 168 150 172 176Z"/>
<path d="M170 205C200 196 230 180 262 160L268 172C236 192 205 208 178 216Z"/>
<circle cx="598" cy="452" r="27"/>
<ellipse cx="668" cy="512" rx="28" ry="17" transform="rotate(35 668 512)"/>
<path d="M556 583C572 596 595 592 606 574C602 602 574 612 556 583Z"/>
<path d="M578 634C604 636 626 620 634 598C638 632 610 654 578 634Z"/>
<circle cx="512" cy="673" r="37"/>
<path d="M350 645C368 678 398 694 436 690C408 712 364 700 350 645Z"/>
</g>
<g fill="#ff5500">
<circle cx="598" cy="452" r="13"/>
<circle cx="516" cy="677" r="21"/>
<ellipse cx="156" cy="338" rx="13" ry="6"/>
</g>
</svg></svg>
</body></html>
